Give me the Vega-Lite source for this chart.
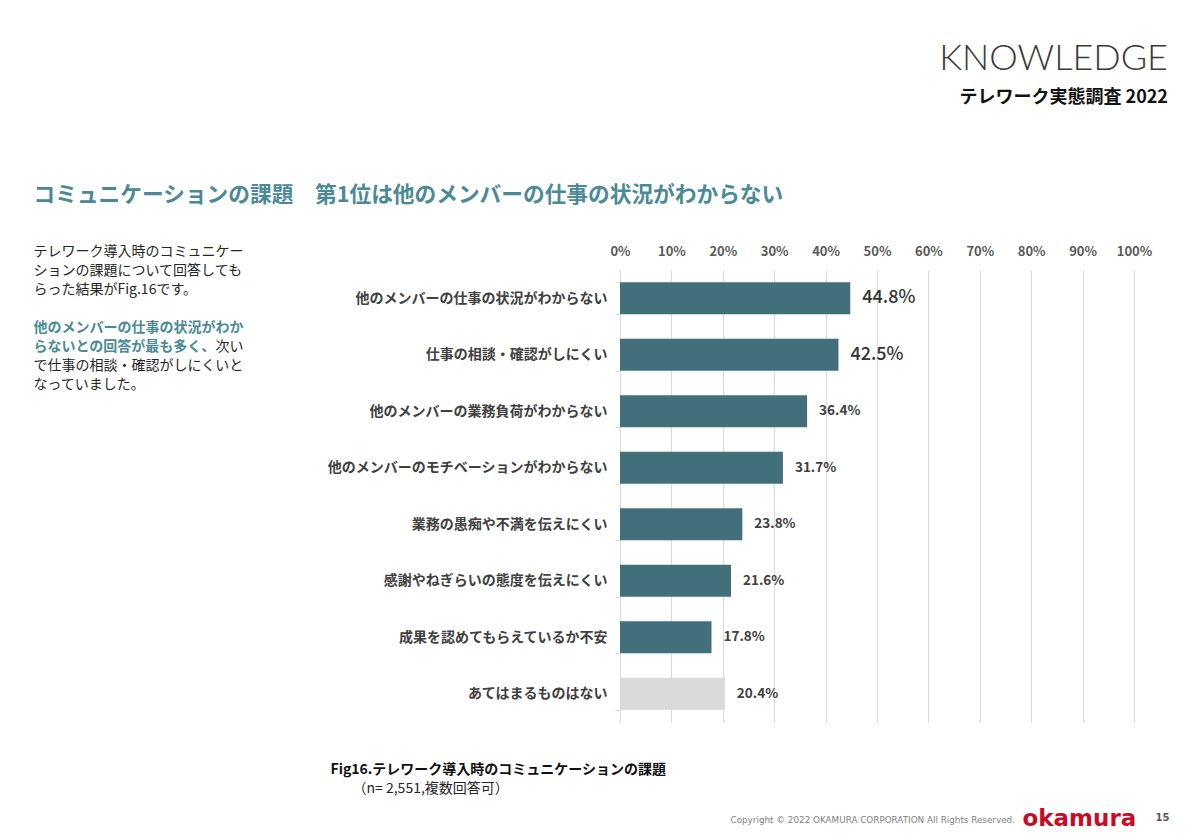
{
  "$schema": "https://vega.github.io/schema/vega-lite/v6.json",
  "autosize": {"type": "none"},
  "width": 514,
  "height": 452,
  "padding": {"left": 620, "top": 270, "right": 51, "bottom": 116},
  "background": "white",
  "config": {"view": {"stroke": null}, "font": "Noto Sans CJK JP"},
  "title": {
    "text": "KNOWLEDGE",
    "subtitle": "テレワーク実態調査 2022",
    "anchor": "end",
    "frame": "group",
    "orient": "top",
    "font": "Lato",
    "fontSize": 36,
    "fontWeight": 300,
    "color": "#3a3a3a",
    "subtitleFont": "Noto Sans CJK JP",
    "subtitleFontSize": 18,
    "subtitleFontWeight": "bold",
    "subtitleColor": "#111111",
    "subtitlePadding": 11,
    "offset": 0,
    "dx": 34,
    "dy": -76
  },
  "data": {
    "values": [
      {"item": "他のメンバーの仕事の状況がわからない", "value": 0.448},
      {"item": "仕事の相談・確認がしにくい", "value": 0.425},
      {"item": "他のメンバーの業務負荷がわからない", "value": 0.364},
      {"item": "他のメンバーのモチベーションがわからない", "value": 0.317},
      {"item": "業務の愚痴や不満を伝えにくい", "value": 0.238},
      {"item": "感謝やねぎらいの態度を伝えにくい", "value": 0.216},
      {"item": "成果を認めてもらえているか不安", "value": 0.178},
      {"item": "あてはまるものはない", "value": 0.204}
    ]
  },
  "resolve": {"axis": {"x": "independent", "y": "independent"}},
  "layer": [
    {
      "transform": [{"filter": "datum.item !== 'あてはまるものはない'"}],
      "mark": {"type": "bar", "color": "#41707a"},
      "encoding": {
        "x": {
          "field": "value", "type": "quantitative",
          "scale": {"domain": [0, 1]},
          "axis": {
            "orient": "top",
            "values": [0, 0.1, 0.2, 0.3, 0.4, 0.5, 0.6, 0.7, 0.8, 0.9, 1],
            "format": ".0%",
            "grid": true, "gridColor": "#d9d9d9", "gridWidth": 1,
            "domain": false, "ticks": false,
            "labelPadding": 12, "labelFlush": false, "labelOverlap": false, "labelBound": false,
            "labelFont": "Noto Sans CJK JP", "labelFontSize": 13, "labelFontWeight": "bold", "labelColor": "#595959",
            "title": "コミュニケーションの課題　第1位は他のメンバーの仕事の状況がわからない",
            "titleX": -587, "titleY": -69, "titleAlign": "left", "titleBaseline": "alphabetic", "titleAngle": 0,
            "titleFont": "Noto Sans CJK JP", "titleFontSize": 21.7, "titleFontWeight": "bold", "titleColor": "#4a8a96"
          }
        },
        "y": {
          "field": "item", "type": "nominal",
          "scale": {
            "domain": ["他のメンバーの仕事の状況がわからない", "仕事の相談・確認がしにくい", "他のメンバーの業務負荷がわからない", "他のメンバーのモチベーションがわからない", "業務の愚痴や不満を伝えにくい", "感謝やねぎらいの態度を伝えにくい", "成果を認めてもらえているか不安", "あてはまるものはない"],
            "paddingInner": 0.434, "paddingOuter": 0.217
          },
          "axis": {
            "orient": "left",
            "grid": false,
            "domain": true, "domainColor": "#d9d9d9",
            "ticks": true, "tickColor": "#d9d9d9", "tickSize": 5, "tickBand": "extent",
            "labelPadding": 8, "labelLimit": 400,
            "labelFont": "Noto Sans CJK JP", "labelFontSize": 14, "labelFontWeight": "bold", "labelColor": "#404040",
            "title": ["テレワーク導入時のコミュニケー", "ションの課題について回答しても", "らった結果がFig.16です。", "\u200b", "\u200b", "\u200b\u3000\u3000\u3000\u3000\u3000\u3000\u3000\u3000\u3000\u3000\u3000\u3000\u3000次い", "で仕事の相談・確認がしにくいと", "なっていました。"],
            "titleAngle": 0, "titleX": -587, "titleY": -15, "titleAlign": "left", "titleBaseline": "alphabetic",
            "titleFont": "Noto Sans CJK JP", "titleFontSize": 14, "titleFontWeight": "normal", "titleColor": "#262626", "titleLineHeight": 19
          }
        }
      }
    },
    {
      "transform": [{"filter": "datum.item === 'あてはまるものはない'"}],
      "mark": {"type": "bar", "color": "#d9d9d9"},
      "encoding": {
        "x": {
          "field": "value", "type": "quantitative",
          "scale": {"domain": [0, 1]},
          "axis": {
            "orient": "bottom", "grid": false, "domain": false, "ticks": false, "labels": false,
            "title": "okamura",
            "titleX": 402, "titleY": 103, "titleAlign": "left", "titleBaseline": "alphabetic", "titleAngle": 0,
            "titleFont": "DejaVu Sans", "titleFontSize": 23, "titleFontWeight": "bold", "titleColor": "#cc0a24"
          }
        },
        "y": {
          "field": "item", "type": "nominal",
          "scale": {
            "domain": ["他のメンバーの仕事の状況がわからない", "仕事の相談・確認がしにくい", "他のメンバーの業務負荷がわからない", "他のメンバーのモチベーションがわからない", "業務の愚痴や不満を伝えにくい", "感謝やねぎらいの態度を伝えにくい", "成果を認めてもらえているか不安", "あてはまるものはない"],
            "paddingInner": 0.434, "paddingOuter": 0.217
          },
          "axis": {
            "orient": "right", "grid": false, "domain": false, "ticks": false, "labels": false,
            "title": "15",
            "titleAngle": 0, "titleX": 21, "titleY": 550, "titleAlign": "left", "titleBaseline": "alphabetic",
            "titleFont": "DejaVu Sans", "titleFontSize": 10, "titleFontWeight": "bold", "titleColor": "#595959"
          }
        }
      }
    },
    {
      "transform": [{"filter": "datum.value > 0.4"}],
      "mark": {"type": "text", "align": "left", "baseline": "middle", "dx": 12, "fontSize": 18, "fontWeight": 500, "color": "#333333", "font": "Noto Sans CJK JP"},
      "encoding": {
        "x": {
          "field": "value", "type": "quantitative",
          "scale": {"domain": [0, 1]},
          "axis": {
            "orient": "bottom", "grid": false, "domain": false, "ticks": false, "labels": false,
            "title": "Fig16.テレワーク導入時のコミュニケーションの課題",
            "titleX": -290, "titleY": 51, "titleAlign": "left", "titleBaseline": "alphabetic", "titleAngle": 0,
            "titleFont": "Noto Sans CJK JP", "titleFontSize": 14, "titleFontWeight": "bold", "titleColor": "#111111"
          }
        },
        "y": {
          "field": "item", "type": "nominal",
          "scale": {
            "domain": ["他のメンバーの仕事の状況がわからない", "仕事の相談・確認がしにくい", "他のメンバーの業務負荷がわからない", "他のメンバーのモチベーションがわからない", "業務の愚痴や不満を伝えにくい", "感謝やねぎらいの態度を伝えにくい", "成果を認めてもらえているか不安", "あてはまるものはない"],
            "paddingInner": 0.434, "paddingOuter": 0.217
          },
          "axis": {
            "orient": "right", "grid": false, "domain": false, "ticks": false, "labels": false,
            "title": ["他のメンバーの仕事の状況がわか", "らないとの回答が最も多く、"],
            "titleAngle": 0, "titleX": -1101, "titleY": 61, "titleAlign": "left", "titleBaseline": "alphabetic",
            "titleFont": "Noto Sans CJK JP", "titleFontSize": 14, "titleFontWeight": "bold", "titleColor": "#4a8a96", "titleLineHeight": 19
          }
        },
        "text": {"field": "value", "type": "quantitative", "format": ".1%"}
      }
    },
    {
      "transform": [{"filter": "datum.value < 0.4"}],
      "mark": {"type": "text", "align": "left", "baseline": "middle", "dx": 12, "fontSize": 13.5, "fontWeight": "bold", "color": "#404040", "font": "Noto Sans CJK JP"},
      "encoding": {
        "x": {
          "field": "value", "type": "quantitative",
          "scale": {"domain": [0, 1]},
          "axis": {
            "orient": "bottom", "grid": false, "domain": false, "ticks": false, "labels": false,
            "title": "（n= 2,551,複数回答可）",
            "titleX": -268, "titleY": 70, "titleAlign": "left", "titleBaseline": "alphabetic", "titleAngle": 0,
            "titleFont": "Noto Sans CJK JP", "titleFontSize": 14, "titleFontWeight": "normal", "titleColor": "#262626"
          }
        },
        "y": {
          "field": "item", "type": "nominal",
          "scale": {
            "domain": ["他のメンバーの仕事の状況がわからない", "仕事の相談・確認がしにくい", "他のメンバーの業務負荷がわからない", "他のメンバーのモチベーションがわからない", "業務の愚痴や不満を伝えにくい", "感謝やねぎらいの態度を伝えにくい", "成果を認めてもらえているか不安", "あてはまるものはない"],
            "paddingInner": 0.434, "paddingOuter": 0.217
          },
          "axis": {
            "orient": "right", "grid": false, "domain": false, "ticks": false, "labels": false,
            "title": "Copyright © 2022 OKAMURA CORPORATION All Rights Reserved.",
            "titleAngle": 0, "titleX": -404, "titleY": 552, "titleAlign": "left", "titleBaseline": "alphabetic",
            "titleFont": "DejaVu Sans", "titleFontSize": 8.8, "titleFontWeight": "normal", "titleColor": "#808080"
          }
        },
        "text": {"field": "value", "type": "quantitative", "format": ".1%"}
      }
    }
  ]
}
